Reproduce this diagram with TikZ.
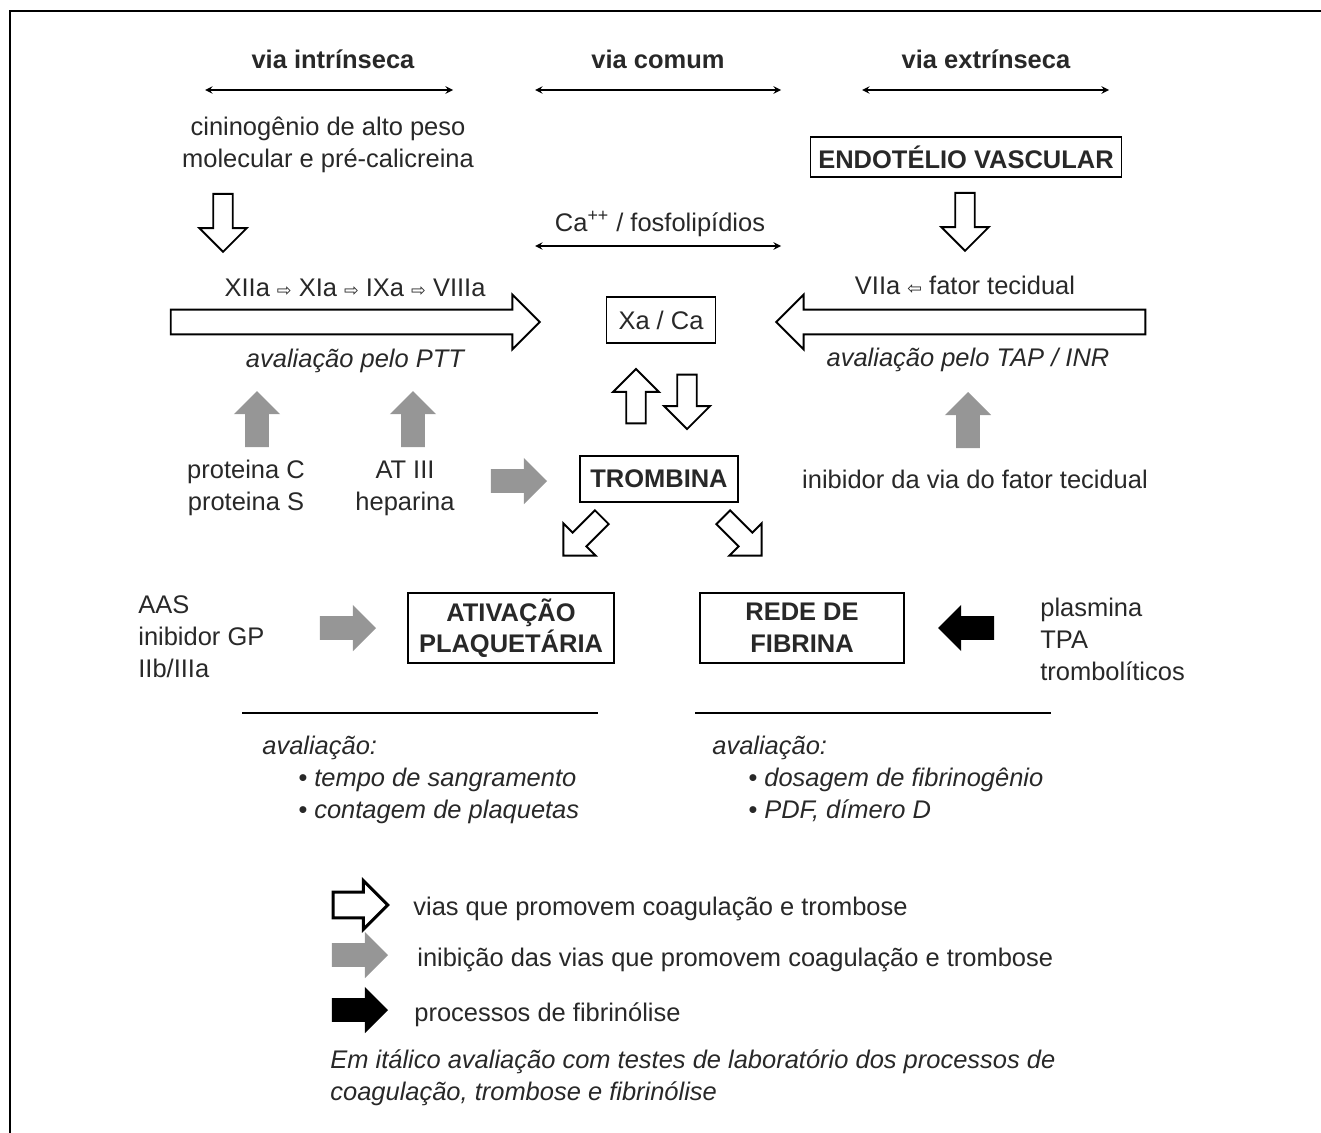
\documentclass[tikz,border=0pt]{standalone}
\usepackage{fontspec}
\setmainfont{Liberation Sans}
\newfontfamily\symfont{DejaVu Sans}
\usetikzlibrary{positioning,shapes.arrows,arrows}
\definecolor{inkgray}{RGB}{40,40,40}
\definecolor{inhibgray}{RGB}{150,150,150}
\newcommand{\fwdsym}{{\fontsize{10}{10}\symfont ⇨}}
\newcommand{\bwdsym}{{\fontsize{10}{10}\symfont ⇦}}

\begin{document}
\begin{tikzpicture}[x=0.02cm,y=-0.02cm,>=stealth,text=inkgray,
    font=\fontsize{14.5}{18}\selectfont,
    lbl/.style={anchor=base,align=center},
    lft/.style={anchor=base west,align=left,inner xsep=0pt},
    hdr/.style={anchor=base,font=\fontsize{14.5}{18}\selectfont\bfseries},
    note/.style={anchor=base west,align=left,inner xsep=0pt,font=\fontsize{14.5}{18}\selectfont\itshape},
    box/.style={draw=black,line width=1pt,inner sep=0pt,align=center,
                font=\fontsize{14.5}{18}\selectfont\bfseries},
    fwd/.style={single arrow,draw=black,fill=white,line width=1.1pt,inner sep=5pt,
                single arrow head extend=8pt,minimum height=33pt,shape border rotate=#1},
    big/.style={fwd=#1,inner sep=6.5pt,single arrow head extend=8.5pt,minimum height=210pt},
    inh/.style={single arrow,fill=inhibgray,draw=none,inner sep=6.5pt,
                single arrow head extend=6.5pt,minimum height=32pt,shape border rotate=#1},
    fib/.style={inh=#1,fill=black}]

  \useasboundingbox (0,0) rectangle (1321,1132);
  \draw[line width=1.7pt] (10,1140) -- (10,11) -- (1330,11);

  % pathway headers
  \node[hdr] (intr) at (333,69) {via intrínseca};
  \node[hdr] (comum) at (658,69) {via comum};
  \node[hdr] (extr) at (986,69) {via extrínseca};
  \coordinate (i1) at (205,90);  \coordinate (i2) at (453,90);
  \coordinate (c1) at (535,90);  \coordinate (c2) at (781,90);
  \coordinate (e1) at (862,90);  \coordinate (e2) at (1109,90);
  \coordinate (ca1) at (535,246); \coordinate (ca2) at (781,246);
  \draw[<->,line width=0.9pt] (i1) -- (i2);
  \draw[<->,line width=0.9pt] (c1) -- (c2);
  \draw[<->,line width=0.9pt] (e1) -- (e2);
  \draw[<->,line width=0.9pt] (ca1) -- (ca2);

  \node[lbl] (cinin) at (328,167) {cininogênio de alto peso\\molecular e pré-calicreina};
  \node[box,minimum width=177pt,minimum height=23pt] (endo) at (966,157) {ENDOTÉLIO VASCULAR};
  \node[fwd=270] (cinarr) at (223,218) {};
  \node[fwd=270] (endarr) at (965,217) {};
  \node[lbl] (cafos) at (660,231) {Ca\textsuperscript{++} / fosfolipídios};

  % cascades
  \node[lbl] (casci) at (355,296) {XIIa \fwdsym{} XIa \fwdsym{} IXa \fwdsym{} VIIIa};
  \node[lbl] (casce) at (965,294) {VIIa \bwdsym{} fator tecidual};
  \node[big=0] (intarr) at (349,322) {};
  \node[big=180] (extarr) at (967,322) {};
  \node[box,minimum width=62pt,minimum height=26pt,font=\fontsize{14.5}{18}\selectfont] (xaca) at (661,320) {Xa / Ca};
  \node[note,anchor=base] (ptt) at (355,367) {avaliação pelo PTT};
  \node[note,anchor=base] (tap) at (968,366) {avaliação pelo TAP / INR};

  \node[fwd=90,inner sep=5pt,single arrow head extend=7.5pt,minimum height=31pt] (up) at (636,401) {};
  \node[fwd=270,inner sep=5pt,single arrow head extend=7.5pt,minimum height=31pt] (down) at (687,397) {};

  % inhibitors
  \node[inh=90] (protarr) at (257,425) {};
  \node[inh=90] (atarr) at (413,425) {};
  \node[inh=90] (tfpiarr) at (968,426) {};
  \node[lbl] (prot) at (246,510) {proteina C\\proteina S};
  \node[lbl] (at) at (405,510) {AT III\\heparina};
  \node[inh=0] (heparr) at (513,481) {};
  \node[box,minimum width=90pt,minimum height=26pt] (tromb) at (659,479) {TROMBINA};
  \node[lbl] (tfpi) at (975,488) {inibidor da via do fator tecidual};

  \node[fwd=0,rotate=225,inner sep=5pt,single arrow head extend=7.5pt,minimum height=31pt] (dl) at (586,533) {};
  \node[fwd=0,rotate=-45,inner sep=5pt,single arrow head extend=7.5pt,minimum height=31pt] (dr) at (739,533) {};

  % platelets and fibrin
  \node[lft] (aas) at (138,677) {AAS\\inibidor GP\\IIb/IIIa};
  \node[inh=0] (aasarr) at (342,628) {};
  \node[box,minimum width=117pt,minimum height=40pt] (plaq) at (511,628) {ATIVAÇÃO\\PLAQUETÁRIA};
  \node[box,minimum width=116pt,minimum height=40pt] (fibr) at (802,628) {REDE DE\\FIBRINA};
  \node[fib=180] (plasarr) at (972,628) {};
  \node[lft] (plas) at (1040,680) {plasmina\\TPA\\trombolíticos};

  \draw[line width=1pt] (242,713) -- (598,713);
  \draw[line width=1pt] (695,713) -- (1051,713);
  \node[note] (avp) at (262,754) {avaliação:};
  \node[note] (avp1) at (298,818) {• tempo de sangramento\\• contagem de plaquetas};
  \node[note] (avf) at (712,754) {avaliação:};
  \node[note] (avf1) at (748,818) {• dosagem de fibrinogênio\\• PDF, dímero D};

  % legend
  \node[fwd=0,line width=1.7pt,inner sep=6.5pt,single arrow head extend=6.5pt,minimum height=31pt] (lg1) at (354,905) {};
  \node[inh=0] (lg2) at (354,955) {};
  \node[fib=0] (lg3) at (354,1010) {};
  \node[lft] (lt1) at (413,915) {vias que promovem coagulação e trombose};
  \node[lft] (lt2) at (417,966) {inibição das vias que promovem coagulação e trombose};
  \node[lft] (lt3) at (414,1021) {processos de fibrinólise};
  \node[note] (lt4) at (330,1100) {Em itálico avaliação com testes de laboratório dos processos de\\coagulação, trombose e fibrinólise};
\end{tikzpicture}
\end{document}
